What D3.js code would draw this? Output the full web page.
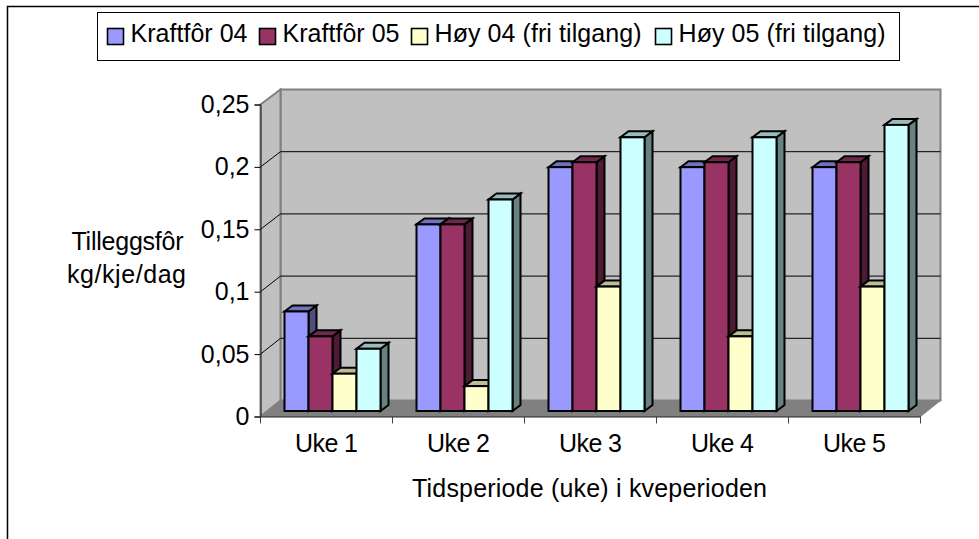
<!DOCTYPE html>
<html>
<head>
<meta charset="utf-8">
<script src="https://cdn.jsdelivr.net/npm/d3@7"></script>
<style>
  html, body { margin: 0; padding: 0; background: #fff; }
  svg { display: block; }
  text { font-family: "Liberation Sans", Arial, sans-serif; font-size: 25px; fill: #000; }
</style>
</head>
<body>
<div class="chart"></div>
<script>
// chart data
var weeks = ["Uke 1", "Uke 2", "Uke 3", "Uke 4", "Uke 5"];
var seriesNames = ["Kraftfôr 04", "Kraftfôr 05", "Høy 04 (fri tilgang)", "Høy 05 (fri tilgang)"];
var kraft04 = [0.08, 0.15, 0.196, 0.196, 0.196];
var kraft05 = [0.06, 0.15, 0.2, 0.2, 0.2];
var hoy04 = [0.03, 0.02, 0.1, 0.06, 0.1];
var hoy05 = [0.05, 0.17, 0.22, 0.22, 0.23];
var tickValues = [0, 0.05, 0.1, 0.15, 0.2, 0.25];
var tickLabels = ["0", "0,05", "0,1", "0,15", "0,2", "0,25"];
var allValues = [kraft04, kraft05, hoy04, hoy05];
var colors = ["#9999ff", "#993366", "#ffffcc", "#ccffff"];

var svgWidth = 979;
var svgHeight = 539;

var svg = d3.select(".chart").append("svg")
    .attr("width", svgWidth)
    .attr("height", svgHeight);

// front plane of the plot box
var left = 260.5, right = 920.5, top_ = 104.5, bottom = 416.5;
// how far the back wall is shifted
var wallDx = 20;

var xScale = d3.scaleBand().domain(weeks).range([left, right]);
var yFront = d3.scaleLinear().domain([0, 0.25]).range([bottom, top_]);
var yBack = d3.scaleLinear().domain([0, 0.25]).range([400.5, 89.5]);
var yBar = d3.scaleLinear().domain([0, 0.25]).range([411, 100]);
var xInner = d3.scaleBand().domain(seriesNames).range([24, 120]);

var line = d3.line();

// outer frame, only top and left are visible
svg.append("path")
    .attr("d", line([[7.5, svgHeight], [7.5, 6.5], [svgWidth, 6.5]]))
    .attr("fill", "none")
    .attr("stroke", "#000")
    .attr("stroke-width", 1.5);

// walls and floor
var walls = svg.append("g");
walls.append("path")
    .attr("d", line([[left + wallDx, yBack(0.25)], [right + wallDx, yBack(0.25)], [right + wallDx, yBack(0)], [left + wallDx, yBack(0)]]) + "Z")
    .attr("fill", "#c0c0c0")
    .attr("stroke", "#808080")
    .attr("stroke-width", 2);
walls.append("path")
    .attr("d", line([[left, top_], [left + wallDx, yBack(0.25)], [left + wallDx, yBack(0)], [left, bottom]]) + "Z")
    .attr("fill", "#c0c0c0")
    .attr("stroke", "#808080")
    .attr("stroke-width", 2);
walls.append("path")
    .attr("d", line([[left, bottom], [right, bottom], [right + wallDx, yBack(0)], [left + wallDx, yBack(0)]]) + "Z")
    .attr("fill", "#808080")
    .attr("stroke", "#808080");

// gridlines on back wall + side wall
var grid = svg.append("g").attr("fill", "none").attr("stroke", "#000").attr("stroke-width", 1);
grid.selectAll("path")
    .data(tickValues.slice(1, 5))
    .enter()
    .append("path")
    .attr("d", d => line([[left, yFront(d)], [left + wallDx, yBack(d)], [right + wallDx, yBack(d)]]));

// axes
var leftAxis = d3.axisLeft(yFront)
    .tickValues(tickValues)
    .tickFormat((d, i) => tickLabels[i])
    .tickSizeOuter(0)
    .tickSize(6)
    .tickPadding(5);

var bottomAxis = d3.axisBottom(xScale)
    .tickSize(0)
    .tickPadding(18);

var yAxis = svg.append("g")
    .attr("transform", "translate(" + left + ",0)")
    .call(leftAxis);

var xAxis = svg.append("g")
    .attr("transform", "translate(0," + bottom + ")")
    .call(bottomAxis);

yAxis.attr("font-family", null).attr("font-size", null);
xAxis.attr("font-family", null).attr("font-size", null);
yAxis.select(".domain").attr("stroke", "#222");
xAxis.select(".domain").attr("stroke", "#222");
xAxis.selectAll("text").attr("textLength", 63).attr("lengthAdjust", "spacing");

// the separators between the weeks sit on the band edges
xAxis.selectAll("line.sep")
    .data(weeks.map(w => xScale(w)).concat([right]))
    .enter()
    .append("line")
    .classed("sep", true)
    .attr("x1", d => d)
    .attr("x2", d => d)
    .attr("y1", 0)
    .attr("y2", 7)
    .attr("stroke", "#444");

// 3d bars, left to right so next front covers previous side
var depthX = 8, depthY = 6;
var barsGroup = svg.append("g").classed("bars", true);

weeks.forEach(function(week, w) {
    seriesNames.forEach(function(name, s) {
        var v = allValues[s][w];
        var x0 = xScale(week) + xInner(name);
        var x1 = x0 + xInner.bandwidth();
        var y0 = yBar(0);
        var y1 = yBar(v);
        var base = d3.color(colors[s]);
        var bar = barsGroup.append("g")
            .attr("stroke", "#000")
            .attr("stroke-width", 2)
            .attr("stroke-linejoin", "miter");

        bar.append("path")
            .attr("d", line([[x1, y0], [x1 + depthX, y0 - depthY], [x1 + depthX, y1 - depthY], [x1, y1]]) + "Z")
            .attr("fill", base.darker(1.9));
        bar.append("path")
            .attr("d", line([[x0, y1], [x0 + depthX, y1 - depthY], [x1 + depthX, y1 - depthY], [x1, y1]]) + "Z")
            .attr("fill", base.darker(0.85));
        bar.append("rect")
            .attr("x", x0)
            .attr("y", y1)
            .attr("width", x1 - x0)
            .attr("height", y0 - y1)
            .attr("fill", colors[s]);
    });
});

// axis titles
svg.append("text")
    .attr("x", 127.5)
    .attr("y", 250)
    .attr("text-anchor", "middle")
    .attr("textLength", 112)
    .text("Tilleggsfôr");
svg.append("text")
    .attr("x", 126.5)
    .attr("y", 283)
    .attr("text-anchor", "middle")
    .attr("textLength", 119)
    .text("kg/kje/dag");
svg.append("text")
    .attr("x", 589.5)
    .attr("y", 497)
    .attr("text-anchor", "middle")
    .attr("textLength", 355)
    .text("Tidsperiode (uke) i kveperioden");

// legend
var legend = svg.append("g");
legend.append("rect")
    .attr("x", 97.5)
    .attr("y", 12.5)
    .attr("width", 802)
    .attr("height", 48)
    .attr("fill", "#fff")
    .attr("stroke", "#000");

var legendX = [107.5, 259.5, 411.5, 655.5];
var legendWidths = [117, 117, 207, 207];
var legendItems = legend.selectAll("g")
    .data(seriesNames)
    .enter()
    .append("g")
    .attr("transform", (d, i) => "translate(" + legendX[i] + ",28.5)");
legendItems.append("rect")
    .attr("width", 16)
    .attr("height", 16)
    .attr("fill", (d, i) => colors[i])
    .attr("stroke", "#000")
    .attr("stroke-width", 1.6);
legendItems.append("text")
    .attr("x", 23)
    .attr("y", 13.5)
    .attr("textLength", (d, i) => legendWidths[i])
    .text(d => d);
</script>
</body>
</html>
